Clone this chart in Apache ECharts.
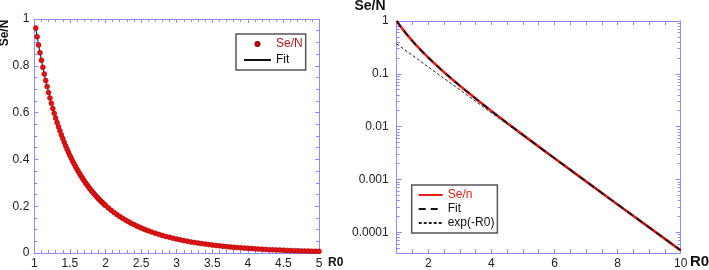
<!DOCTYPE html>
<html>
<head>
<meta charset="utf-8">
<script src="https://cdn.jsdelivr.net/npm/echarts@6/dist/echarts.min.js"></script>
<style>
  html, body { margin: 0; padding: 0; background: #fff; }
  #chart { width: 709px; height: 270px; }
</style>
</head>
<body>
<div id="chart"></div>
<script>
// ---- left panel: Se/N against R0, linear axes ----
const r0Lin = [
  1.02, 1.04, 1.06, 1.08, 1.10, 1.12, 1.14, 1.16, 1.18, 1.20,
  1.22, 1.24, 1.26, 1.28, 1.30, 1.32, 1.34, 1.36, 1.38, 1.40,
  1.42, 1.44, 1.46, 1.48, 1.50, 1.52, 1.54, 1.56, 1.58, 1.60,
  1.62, 1.64, 1.66, 1.68, 1.70, 1.72, 1.74, 1.76, 1.78, 1.80,
  1.82, 1.84, 1.86, 1.88, 1.90, 1.92, 1.94, 1.96, 1.98, 2.00,
  2.04, 2.08, 2.12, 2.16, 2.20, 2.24, 2.28, 2.32, 2.36, 2.40,
  2.44, 2.48, 2.52, 2.56, 2.60,
  2.65, 2.70, 2.75, 2.80, 2.85, 2.90, 2.95, 3.00, 3.05, 3.10,
  3.15, 3.20, 3.25, 3.30, 3.35, 3.40, 3.45, 3.50, 3.55, 3.60,
  3.65, 3.70, 3.75, 3.80, 3.85, 3.90, 3.95, 4.00, 4.05, 4.10,
  4.15, 4.20, 4.25, 4.30, 4.35, 4.40, 4.45, 4.50, 4.55, 4.60,
  4.65, 4.70, 4.75, 4.80, 4.85, 4.90, 4.95, 5.00
];
const seLin = [
  0.9611, 0.9241, 0.8890, 0.8556, 0.8239, 0.7937, 0.7649, 0.7374, 0.7113, 0.6863,
  0.6625, 0.6396, 0.6179, 0.5970, 0.5770, 0.5578, 0.5395, 0.5220, 0.5052, 0.4890,
  0.4734, 0.4585, 0.4442, 0.4304, 0.4172, 0.4045, 0.3923, 0.3805, 0.3692, 0.3582,
  0.3476, 0.3374, 0.3276, 0.3180, 0.3088, 0.2999, 0.2914, 0.2832, 0.2752, 0.2676,
  0.2602, 0.2530, 0.2461, 0.2394, 0.2329, 0.2266, 0.2205, 0.2146, 0.2088, 0.2032,
  0.1927, 0.1827, 0.1733, 0.1645, 0.1563, 0.1485, 0.1411, 0.1341, 0.1276, 0.1214,
  0.1155, 0.1100, 0.1047, 0.0998, 0.0951,
  0.0896, 0.0844, 0.0796, 0.0750, 0.0708, 0.0668, 0.0630, 0.0595, 0.0562, 0.0531,
  0.0502, 0.0474, 0.0449, 0.0424, 0.0401, 0.0380, 0.0359, 0.0340, 0.0322, 0.0305,
  0.0289, 0.0274, 0.0259, 0.0245, 0.0233, 0.0221, 0.0209, 0.0198, 0.0188, 0.0178,
  0.0169, 0.0160, 0.0152, 0.0144, 0.0137, 0.0130, 0.0123, 0.0117, 0.0111, 0.0106,
  0.0100, 0.0095, 0.0090, 0.0086, 0.0081, 0.0077, 0.0073, 0.0070
];
// the fit line sits right on the dots
const fitLin = seLin;

// ---- right panel: log scale ----
const r0Log = [1, 1.1, 1.2, 1.3, 1.4, 1.5, 1.6, 1.7, 1.8, 1.9, 2.0, 2.2, 2.4, 2.6, 2.8,
  3.0, 3.5, 4.0, 4.5, 5.0, 5.5, 6, 7, 8, 9, 10];
const seLog = [1, 0.8239, 0.6863, 0.577, 0.489, 0.4172, 0.3582, 0.3088, 0.2676, 0.2329,
  0.2032, 0.1563, 0.1214, 0.0951, 0.075, 0.0595, 0.034, 0.0198, 0.0117, 0.00698,
  0.00418, 0.00252, 0.000918, 0.000336, 0.0001236, 0.0000454];
const fitLog = seLog;
const r0Exp = [1, 2, 3, 4, 5, 6, 7, 8, 9, 10];
const expVals = [0.368, 0.135, 0.0498, 0.0183, 0.00674, 0.00248, 0.000912, 0.000335,
  0.000123, 0.0000454];
const logMin = 0.0000405;

const FONT = '"Liberation Sans", Arial, sans-serif';
const frame = '#8c8cff';
const pairs = (xs, ys) => xs.map((x, i) => [x, ys[i]]);
const noSymbol = { color: 'rgba(0,0,0,0)', borderWidth: 0, opacity: 0 };

// minor log ticks (2..9 x 10^n), drawn on a helper axis in log10 units
const minorLog = [];
for (let e = -5; e < 0; e++) {
  for (let m = 2; m <= 9; m++) {
    const v = Math.log10(m) + e;
    if (v > Math.log10(logMin)) minorLog.push(v);
  }
}

const tick = (len) => ({ show: true, inside: true, length: len, lineStyle: { color: frame } });
const label = (extra) => Object.assign({ color: '#222', fontSize: 12, fontFamily: FONT }, extra);

const baseAxis = {
  type: 'value',
  axisLine: { show: true, onZero: false, lineStyle: { color: frame, width: 1 } },
  splitLine: { show: false }
};

const chart = echarts.init(document.getElementById('chart'));

chart.setOption({
  animation: false,
  grid: [
    { left: 34.3, right: 390, top: 19, bottom: 15 },
    { left: 396.7, right: 28.3, top: 21, bottom: 14 }
  ],
  xAxis: [
    Object.assign({}, baseAxis, {
      gridIndex: 0, position: 'bottom', min: 1, max: 5, interval: 0.5,
      axisTick: tick(4),
      minorTick: Object.assign(tick(3), { splitNumber: 5 }),
      axisLabel: label({ margin: 5 })
    }),
    Object.assign({}, baseAxis, {
      gridIndex: 0, position: 'top', min: 1, max: 5, interval: 0.5,
      axisTick: tick(4),
      minorTick: Object.assign(tick(3), { splitNumber: 5 }),
      axisLabel: { show: false }
    }),
    Object.assign({}, baseAxis, {
      gridIndex: 1, position: 'bottom', min: 1, max: 10, interval: 0.5,
      axisTick: tick(4),
      axisLabel: label({ margin: 5, formatter: v => (v % 2 === 0 ? String(v) : '') })
    }),
    Object.assign({}, baseAxis, {
      gridIndex: 1, position: 'top', min: 1, max: 10, interval: 0.5,
      axisTick: tick(4),
      axisLabel: { show: false }
    })
  ],
  yAxis: [
    Object.assign({}, baseAxis, {
      gridIndex: 0, position: 'left', min: 0, max: 1, interval: 0.2,
      axisTick: tick(4),
      minorTick: Object.assign(tick(3), { splitNumber: 4 }),
      axisLabel: label({ margin: 5 })
    }),
    Object.assign({}, baseAxis, {
      gridIndex: 0, position: 'right', min: 0, max: 1, interval: 0.2,
      axisTick: tick(4),
      minorTick: Object.assign(tick(3), { splitNumber: 4 }),
      axisLabel: { show: false }
    }),
    Object.assign({}, baseAxis, {
      gridIndex: 1, position: 'left', type: 'log', logBase: 10, min: logMin, max: 1,
      axisTick: tick(5),
      axisLabel: label({ margin: 8, showMinLabel: false,
        formatter: v => String(+(+v).toPrecision(3)) })
    }),
    Object.assign({}, baseAxis, {
      gridIndex: 1, position: 'right', type: 'log', logBase: 10, min: logMin, max: 1,
      axisTick: tick(5),
      axisLabel: { show: false }
    }),
    {
      type: 'value', gridIndex: 1, position: 'left',
      min: Math.log10(logMin), max: 0,
      axisLine: { show: false, onZero: false }, splitLine: { show: false },
      axisLabel: { show: false },
      axisTick: Object.assign(tick(3), { customValues: minorLog })
    },
    {
      type: 'value', gridIndex: 1, position: 'right',
      min: Math.log10(logMin), max: 0,
      axisLine: { show: false, onZero: false }, splitLine: { show: false },
      axisLabel: { show: false },
      axisTick: Object.assign(tick(3), { customValues: minorLog })
    }
  ],
  legend: [
    {
      orient: 'vertical', left: 236, top: 34,
      padding: [4, 3, 4, 7], itemGap: 4, itemWidth: 27, itemHeight: 4,
      borderColor: '#555', borderWidth: 1.5, backgroundColor: '#fff',
      selectedMode: false,
      textStyle: { fontSize: 12, fontFamily: FONT, color: '#111' },
      data: [
        { name: 'Se/N', textStyle: { color: '#a81c1c' } },
        { name: 'Fit', itemStyle: noSymbol }
      ]
    },
    {
      orient: 'vertical', left: 411.7, top: 185,
      padding: [4, 3, 4, 6], itemGap: 2, itemWidth: 24, itemHeight: 8,
      borderColor: '#555', borderWidth: 1.5, backgroundColor: '#fff',
      selectedMode: false,
      textStyle: { fontSize: 12, fontFamily: FONT, color: '#111' },
      formatter: n => n.trim(),
      data: [
        { name: 'Se/n', textStyle: { color: '#e0201c' }, itemStyle: noSymbol },
        { name: 'Fit ', itemStyle: noSymbol },
        { name: 'exp(-R0)', itemStyle: noSymbol }
      ]
    }
  ],
  series: [
    {
      name: 'Fit', type: 'line', xAxisIndex: 0, yAxisIndex: 0,
      data: pairs(r0Lin, fitLin), symbol: 'none', z: 2,
      lineStyle: { color: '#111', width: 1 }
    },
    {
      name: 'Se/N', type: 'scatter', xAxisIndex: 0, yAxisIndex: 0,
      data: pairs(r0Lin, seLin), symbol: 'circle', symbolSize: 5, z: 3,
      itemStyle: { color: '#e01414', borderColor: '#a00000', borderWidth: 0.5, opacity: 1 }
    },
    {
      name: 'Se/n', type: 'line', xAxisIndex: 2, yAxisIndex: 2,
      data: pairs(r0Log, seLog), symbol: 'none', z: 2,
      lineStyle: { color: '#e0201c', width: 2.6 }
    },
    {
      name: 'Fit ', type: 'line', xAxisIndex: 2, yAxisIndex: 2,
      data: pairs(r0Log, fitLog), symbol: 'none', z: 3,
      lineStyle: { color: '#111', width: 1.6, type: [7, 5] }
    },
    {
      name: 'exp(-R0)', type: 'line', xAxisIndex: 2, yAxisIndex: 2,
      data: pairs(r0Exp, expVals), symbol: 'none', z: 3,
      lineStyle: { color: '#222', width: 1, type: [3, 2] }
    }
  ],
  graphic: [
    { type: 'text', x: 5, y: 33, rotation: Math.PI / 2,
      style: { text: 'Se/N', font: 'bold 12px ' + FONT, fill: '#111', align: 'center', verticalAlign: 'middle' } },
    { type: 'text', x: 328, y: 263,
      style: { text: 'R0', font: 'bold 12px ' + FONT, fill: '#111', align: 'left', verticalAlign: 'middle' } },
    { type: 'text', x: 370, y: 6,
      style: { text: 'Se/N', font: 'bold 14px ' + FONT, fill: '#111', align: 'center', verticalAlign: 'middle' } },
    { type: 'text', x: 690, y: 262,
      style: { text: 'R0', font: 'bold 15px ' + FONT, fill: '#111', align: 'left', verticalAlign: 'middle' } }
  ]
});
</script>
</body>
</html>
